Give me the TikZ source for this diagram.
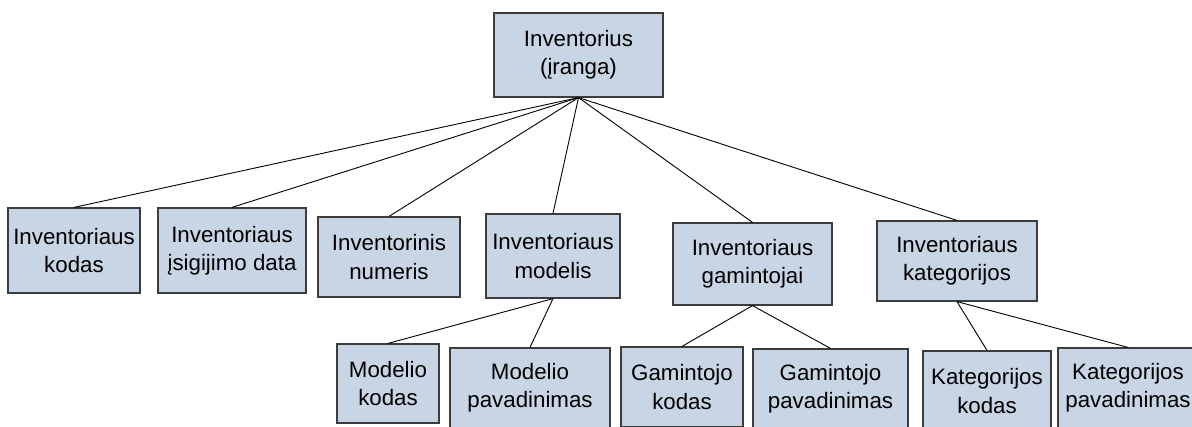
\documentclass[tikz,border=0pt]{standalone}
\usepackage{fontspec}
\setmainfont{Liberation Sans}
\definecolor{boxfill}{RGB}{200,213,228}
\definecolor{boxline}{RGB}{60,60,60}
\begin{document}
\begin{tikzpicture}[x=1pt,y=-1pt,
  entity/.style={draw=boxline, fill=boxfill, line width=1.2pt, inner sep=0pt,
    align=center, font=\fontsize{22.3}{28.3}\selectfont},
  link/.style={draw=black, line width=0.9pt}]
\useasboundingbox (0,0) rectangle (1192,426);

% root
\node[entity, minimum width=169, minimum height=84] (root) at (578.5,55) {Inventorius\\(įranga)};

% first level
\node[entity, minimum width=132, minimum height=85] (kodas) at (74,250.5) {Inventoriaus\\kodas};
\node[entity, minimum width=148, minimum height=85] (data) at (232,250.5) {Inventoriaus\\įsigijimo data};
\node[entity, minimum width=142, minimum height=80] (numeris) at (389,257) {Inventorinis\\numeris};
\node[entity, minimum width=134, minimum height=84] (modelis) at (553,256) {Inventoriaus\\modelis};
\node[entity, minimum width=159, minimum height=82] (gamintojai) at (752.5,264) {Inventoriaus\\gamintojai};
\node[entity, minimum width=160, minimum height=80] (kategorijos) at (957,261) {Inventoriaus\\kategorijos};

% second level
\node[entity, minimum width=102, minimum height=79] (mkodas) at (388,383.5) {Modelio\\kodas};
\node[entity, minimum width=160, minimum height=80] (mpav) at (530,388) {Modelio\\pavadinimas};
\node[entity, minimum width=122, minimum height=80] (gkodas) at (682,387) {Gamintojo\\kodas};
\node[entity, minimum width=155, minimum height=80] (gpav) at (830.5,389) {Gamintojo\\pavadinimas};
\node[entity, minimum width=128, minimum height=80] (kkodas) at (987,391) {Kategorijos\\kodas};
\node[entity, minimum width=140, minimum height=80] (kpav) at (1128,388) {Kategorijos\\pavadinimas};

% connectors
\foreach \c in {kodas,data,numeris,modelis,gamintojai,kategorijos}
  \draw[link] (root.south) -- (\c.north);
\foreach \c in {mkodas,mpav}
  \draw[link] (modelis.south) -- (\c.north);
\foreach \c in {gkodas,gpav}
  \draw[link] (gamintojai.south) -- (\c.north);
\foreach \c in {kkodas,kpav}
  \draw[link] (kategorijos.south) -- (\c.north);
\end{tikzpicture}
\end{document}
